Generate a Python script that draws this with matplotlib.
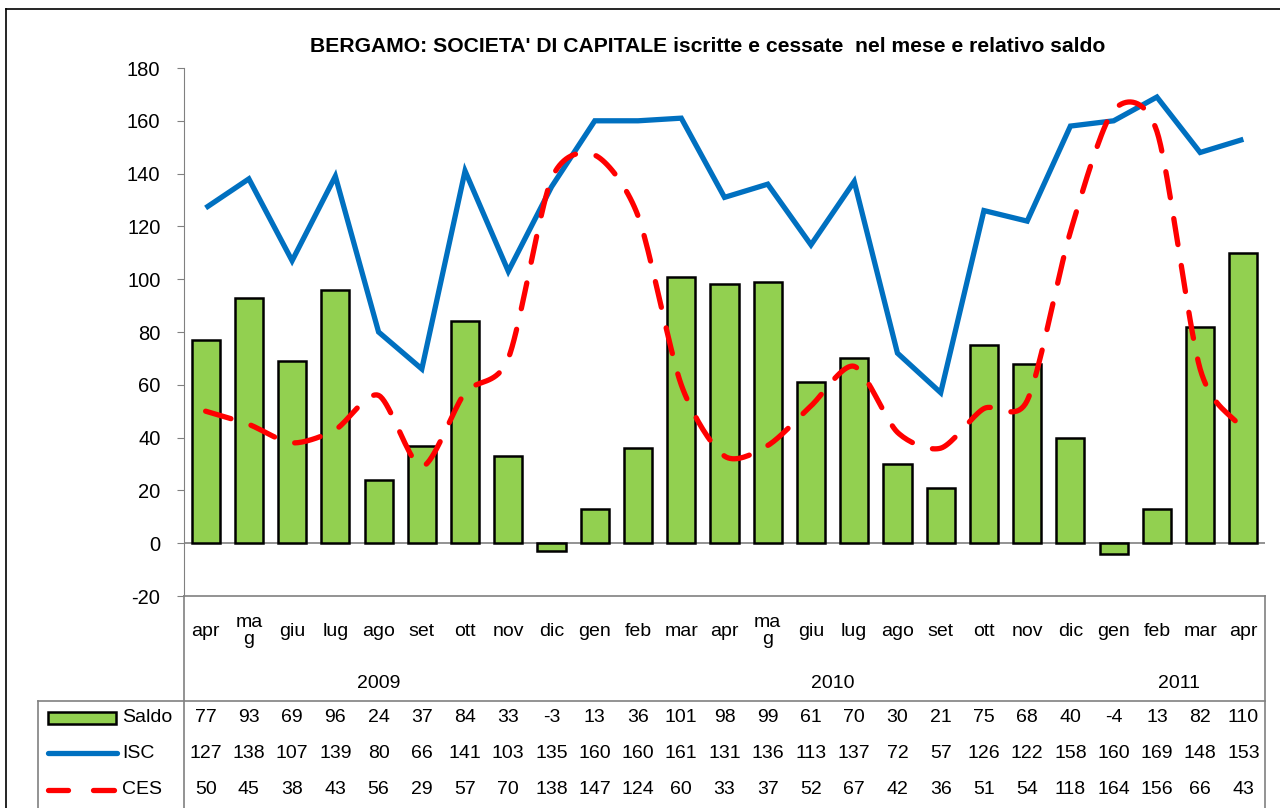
import numpy as np
import matplotlib.pyplot as plt
from matplotlib.transforms import blended_transform_factory
from matplotlib.lines import Line2D
from matplotlib.patches import Rectangle

plt.rcParams['font.family'] = ['Liberation Sans', 'DejaVu Sans']
plt.rcParams['axes.unicode_minus'] = False

mesi = ["apr", "ma\ng", "giu", "lug", "ago", "set", "ott", "nov", "dic",
        "gen", "feb", "mar", "apr", "ma\ng", "giu", "lug", "ago", "set", "ott", "nov", "dic",
        "gen", "feb", "mar", "apr"]
anni = ["2009", "2010", "2011"]
anni_idx = [(0, 8), (9, 20), (21, 24)]
saldo = [77, 93, 69, 96, 24, 37, 84, 33, -3, 13, 36, 101, 98, 99, 61, 70, 30, 21, 75, 68, 40, -4, 13, 82, 110]
isc = [127, 138, 107, 139, 80, 66, 141, 103, 135, 160, 160, 161, 131, 136, 113, 137, 72, 57, 126, 122, 158, 160, 169, 148, 153]
ces = [50, 45, 38, 43, 56, 29, 57, 70, 138, 147, 124, 60, 33, 37, 52, 67, 42, 36, 51, 54, 118, 164, 156, 66, 43]

W, H = 1280, 808
fig = plt.figure(figsize=(W / 100, H / 100), dpi=100)


def fx(px):
    return px / W


def fy(py):
    return 1 - py / H


# riquadro esterno
fig.add_artist(Line2D([fx(6), 1], [fy(9), fy(9)], color="black", lw=1.2))
fig.add_artist(Line2D([fx(6), fx(6)], [fy(9), 0], color="black", lw=1.2))

left, right, top, bottom = 184, 1265, 68, 596
ax = fig.add_axes([fx(left), fy(bottom), fx(right - left), (bottom - top) / H])

x = np.arange(len(mesi))
ax.axhline(0, color="#808080", lw=1.2, zorder=1)
ax.bar(x, saldo, width=0.65, color="#92D050", edgecolor="black", linewidth=1.8, zorder=2)
ax.plot(x, isc, color="#0070C0", lw=3.8, solid_capstyle="butt", solid_joinstyle="miter", zorder=3)


# linea smussata come in Excel (spline di Hermite con tangenti ridotte)
def smooth(xs, ys, k=0.4, n=20):
    p = np.column_stack([xs, ys]).astype(float)
    m = np.zeros_like(p)
    m[1:-1] = k * (p[2:] - p[:-2])
    m[0] = k * (p[1] - p[0]) * 2
    m[-1] = k * (p[-1] - p[-2]) * 2
    t = np.linspace(0, 1, n, endpoint=False)[:, None]
    h00 = 2 * t ** 3 - 3 * t ** 2 + 1
    h10 = t ** 3 - 2 * t ** 2 + t
    h01 = -2 * t ** 3 + 3 * t ** 2
    h11 = t ** 3 - t ** 2
    out = []
    for i in range(len(p) - 1):
        out.append(h00 * p[i] + h10 * m[i] + h01 * p[i + 1] + h11 * m[i + 1])
    out.append(p[-1][None, :])
    out = np.vstack(out)
    return out[:, 0], out[:, 1]


sx, sy = smooth(x, ces)
ax.plot(sx, sy, color="#FF0000", lw=3.8, dashes=(5, 4), dash_capstyle="round", zorder=4)

ax.set_xlim(-0.5, len(mesi) - 0.5)
ax.set_ylim(-20, 180)
ax.set_yticks(range(-20, 181, 20))
ax.tick_params(axis="y", labelsize=14.5, length=5, color="#808080", direction="out", pad=12)
ax.set_xticks([])
for s in ["top", "right"]:
    ax.spines[s].set_visible(False)
ax.spines["left"].set_color("#808080")
ax.spines["bottom"].set_visible(False)

fig.text(fx(708), fy(46), "BERGAMO: SOCIETA' DI CAPITALE iscritte e cessate  nel mese e relativo saldo",
         ha="center", va="center", fontsize=15.2, fontweight="bold")

# tabella dati
tr = blended_transform_factory(ax.transData, fig.transFigure)
gray = "#808080"
fig.add_artist(Line2D([fx(left), fx(right)], [fy(bottom), fy(bottom)], color=gray, lw=1.2))
fig.add_artist(Line2D([fx(38), fx(right)], [fy(701), fy(701)], color=gray, lw=1.2))
fig.add_artist(Line2D([fx(left), fx(left)], [fy(bottom), 0], color=gray, lw=1.2))
fig.add_artist(Line2D([fx(right), fx(right)], [fy(bottom), 0], color=gray, lw=1.2))
fig.add_artist(Line2D([fx(38), fx(38)], [fy(701), 0], color=gray, lw=1.2))

for i, m in enumerate(mesi):
    ax.text(i, fy(631), m, transform=tr, ha="center", va="center", fontsize=14, linespacing=0.95)
for a, (i0, i1) in zip(anni, anni_idx):
    ax.text((i0 + i1) / 2, fy(684), a, transform=tr, ha="center", va="center", fontsize=14)

rows = [("Saldo", saldo, 718), ("ISC", isc, 753), ("CES", ces, 790)]
for name, vals, py in rows:
    for i, v in enumerate(vals):
        ax.text(i, fy(py), str(v), transform=tr, ha="center", va="center", fontsize=14)
    fig.text(fx(122), fy(py), name, ha="left", va="center", fontsize=14)

fig.add_artist(Rectangle((fx(48), fy(724)), fx(68), 12 / H, facecolor="#92D050",
                         edgecolor="black", lw=1.8))
fig.add_artist(Line2D([fx(48), fx(117)], [fy(753), fy(753)], color="#0070C0", lw=3.8,
                      solid_capstyle="round"))
fig.add_artist(Line2D([fx(48), fx(68)], [fy(790), fy(790)], color="#FF0000", lw=3.8,
                      solid_capstyle="round"))
fig.add_artist(Line2D([fx(93), fx(114)], [fy(790), fy(790)], color="#FF0000", lw=3.8,
                      solid_capstyle="round"))

fig.savefig("out.png", dpi=100)
